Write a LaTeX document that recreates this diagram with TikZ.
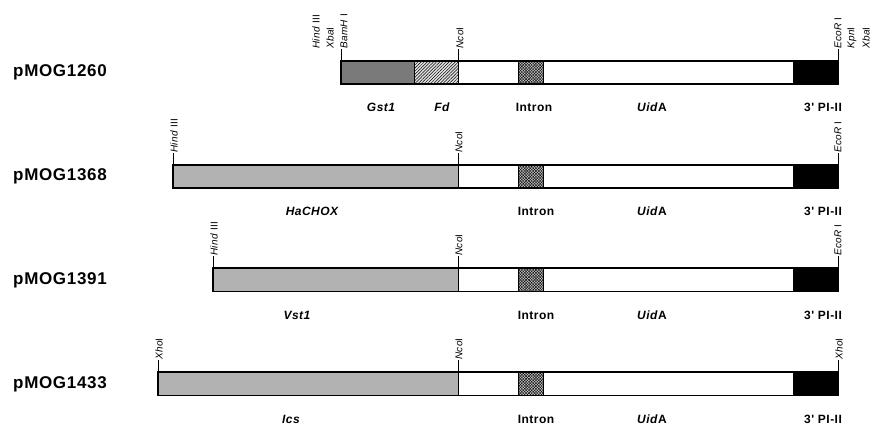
\documentclass[tikz,border=0pt]{standalone}
\usepackage{fontspec}
\setmainfont{Liberation Sans}
\newfontfamily\namefont[LetterSpace=4]{Liberation Sans}
\newfontfamily\labfont[LetterSpace=4]{Liberation Sans}
\newfontfamily\enzfont[LetterSpace=3]{Liberation Sans}
\usetikzlibrary{patterns.meta}
\definecolor{gstgray}{RGB}{122,122,122}
\definecolor{promgray}{RGB}{178,178,178}
\definecolor{fdgray}{RGB}{225,225,225}
\tikzset{
  pname/.style={anchor=west, inner sep=0, font=\namefont\bfseries\fontsize{17}{17}\selectfont},
  glab/.style={inner sep=0, font=\labfont\bfseries\itshape\fontsize{12}{12}\selectfont},
  plab/.style={inner sep=0, font=\labfont\bfseries\fontsize{12}{12}\selectfont},
  enz/.style={rotate=90, anchor=west, inner sep=0, font=\enzfont\fontsize{10}{10}\selectfont},
  tickline/.style={line width=0.8pt},
  outline/.style={line width=1.4pt},
  divider/.style={line width=0.8pt},
  fdfill/.style={fill=fdgray, postaction={pattern={Lines[angle=45,distance=2.2pt,line width=0.5pt]}}},
  intronfill/.style={fill=gray!45, postaction={pattern={Lines[angle=45,distance=2pt,line width=0.4pt]}},
     postaction={pattern={Lines[angle=-45,distance=2pt,line width=0.4pt]}}},
}
\begin{document}
\begin{tikzpicture}[x=1pt,y=-1pt]
\useasboundingbox (0,0) rectangle (874,427);
\fill[white] (0,0) rectangle (874,427);

% ---------------- Row 1: pMOG1260 ----------------
\node[pname] (n1) at (13,72.5) {pMOG1260};
\fill[white] (458,61) rectangle (838,84);
\fill[gstgray] (341,61) rectangle (414,84);
\path[fdfill] (414,61) rectangle (458,84);
\path[intronfill] (518,61) rectangle (543,84);
\fill[black] (793,61) rectangle (838,84);
\draw[divider] (414,61) -- (414,84) (458,61) -- (458,84) (518,61) -- (518,84) (543,61) -- (543,84);
\draw[outline] (341,61) rectangle (838,84);
\coordinate (t1a) at (341,49);
\coordinate (t1b) at (458,49);
\coordinate (t1c) at (838,49);
\draw[tickline] (341,61) -- (t1a);
\draw[tickline] (458,61) -- (t1b);
\draw[tickline] (838,61) -- (t1c);
\node[enz] (e1a) at (316,49) {\textit{Hind} III};
\node[enz] (e1b) at (330,49) {\textit{Xba}I};
\node[enz] (e1c) at (344,49) {\textit{BamH} I};
\node[enz] (e1d) at (460,49) {\textit{Nco}I};
\node[enz] (e1e) at (838,49) {\textit{EcoR} I};
\node[enz] (e1f) at (852,49) {\textit{Kpn}I};
\node[enz] (e1g) at (866,49) {\textit{Xba}I};
\node[glab] (l1a) at (381,107) {Gst1};
\node[glab] (l1b) at (442,107) {Fd};
\node[plab] (l1c) at (534,107) {Intron};
\node[plab] (l1d) at (652,107) {\textit{Uid}A};
\node[plab] (l1e) at (823,107) {3' PI-II};

% ---------------- Row 2: pMOG1368 ----------------
\node[pname] (n2) at (13,176.5) {pMOG1368};
\fill[white] (458,165) rectangle (838,188);
\fill[promgray] (173,165) rectangle (458,188);
\path[intronfill] (518,165) rectangle (543,188);
\fill[black] (793,165) rectangle (838,188);
\draw[divider] (458,165) -- (458,188) (518,165) -- (518,188) (543,165) -- (543,188);
\draw[outline] (173,165) rectangle (838,188);
\coordinate (t2a) at (173,153);
\coordinate (t2b) at (458,153);
\coordinate (t2c) at (838,153);
\draw[tickline] (173,165) -- (t2a);
\draw[tickline] (458,165) -- (t2b);
\draw[tickline] (838,165) -- (t2c);
\node[enz] (e2a) at (174,153) {\textit{Hind} III};
\node[enz] (e2b) at (459,153) {\textit{Nco}I};
\node[enz] (e2c) at (838,153) {\textit{EcoR} I};
\node[glab] (l2a) at (312,211) {HaCHOX};
\node[plab] (l2c) at (536,211) {Intron};
\node[plab] (l2d) at (652,211) {\textit{Uid}A};
\node[plab] (l2e) at (823,211) {3' PI-II};

% ---------------- Row 3: pMOG1391 ----------------
\node[pname] (n3) at (13,280) {pMOG1391};
\fill[white] (458,268) rectangle (838,291.5);
\fill[promgray] (213,268) rectangle (458,291.5);
\path[intronfill] (518,268) rectangle (543,291.5);
\fill[black] (793,268) rectangle (838,291.5);
\draw[divider] (458,268) -- (458,291.5) (518,268) -- (518,291.5) (543,268) -- (543,291.5);
\draw[outline] (213,268) rectangle (838,291.5);
\coordinate (t3a) at (213,256);
\coordinate (t3b) at (458,256);
\coordinate (t3c) at (838,256);
\draw[tickline] (213,268) -- (t3a);
\draw[tickline] (458,268) -- (t3b);
\draw[tickline] (838,268) -- (t3c);
\node[enz] (e3a) at (214,256) {\textit{Hind} III};
\node[enz] (e3b) at (459,256) {\textit{Nco}I};
\node[enz] (e3c) at (838,256) {\textit{EcoR} I};
\node[glab] (l3a) at (297,315) {Vst1};
\node[plab] (l3c) at (536,315) {Intron};
\node[plab] (l3d) at (652,315) {\textit{Uid}A};
\node[plab] (l3e) at (823,315) {3' PI-II};

% ---------------- Row 4: pMOG1433 ----------------
\node[pname] (n4) at (13,384) {pMOG1433};
\fill[white] (458,372) rectangle (838,395.5);
\fill[promgray] (158,372) rectangle (458,395.5);
\path[intronfill] (518,372) rectangle (543,395.5);
\fill[black] (793,372) rectangle (838,395.5);
\draw[divider] (458,372) -- (458,395.5) (518,372) -- (518,395.5) (543,372) -- (543,395.5);
\draw[outline] (158,372) rectangle (838,395.5);
\coordinate (t4a) at (158,360);
\coordinate (t4b) at (458,360);
\coordinate (t4c) at (838,360);
\draw[tickline] (158,372) -- (t4a);
\draw[tickline] (458,372) -- (t4b);
\draw[tickline] (838,372) -- (t4c);
\node[enz] (e4a) at (159,360) {\textit{Xho}I};
\node[enz] (e4b) at (459,360) {\textit{Nco}I};
\node[enz] (e4c) at (839,360) {\textit{Xho}I};
\node[glab] (l4a) at (291,419) {Ics};
\node[plab] (l4c) at (536,419) {Intron};
\node[plab] (l4d) at (652,419) {\textit{Uid}A};
\node[plab] (l4e) at (823,419) {3' PI-II};
\end{tikzpicture}
\end{document}
